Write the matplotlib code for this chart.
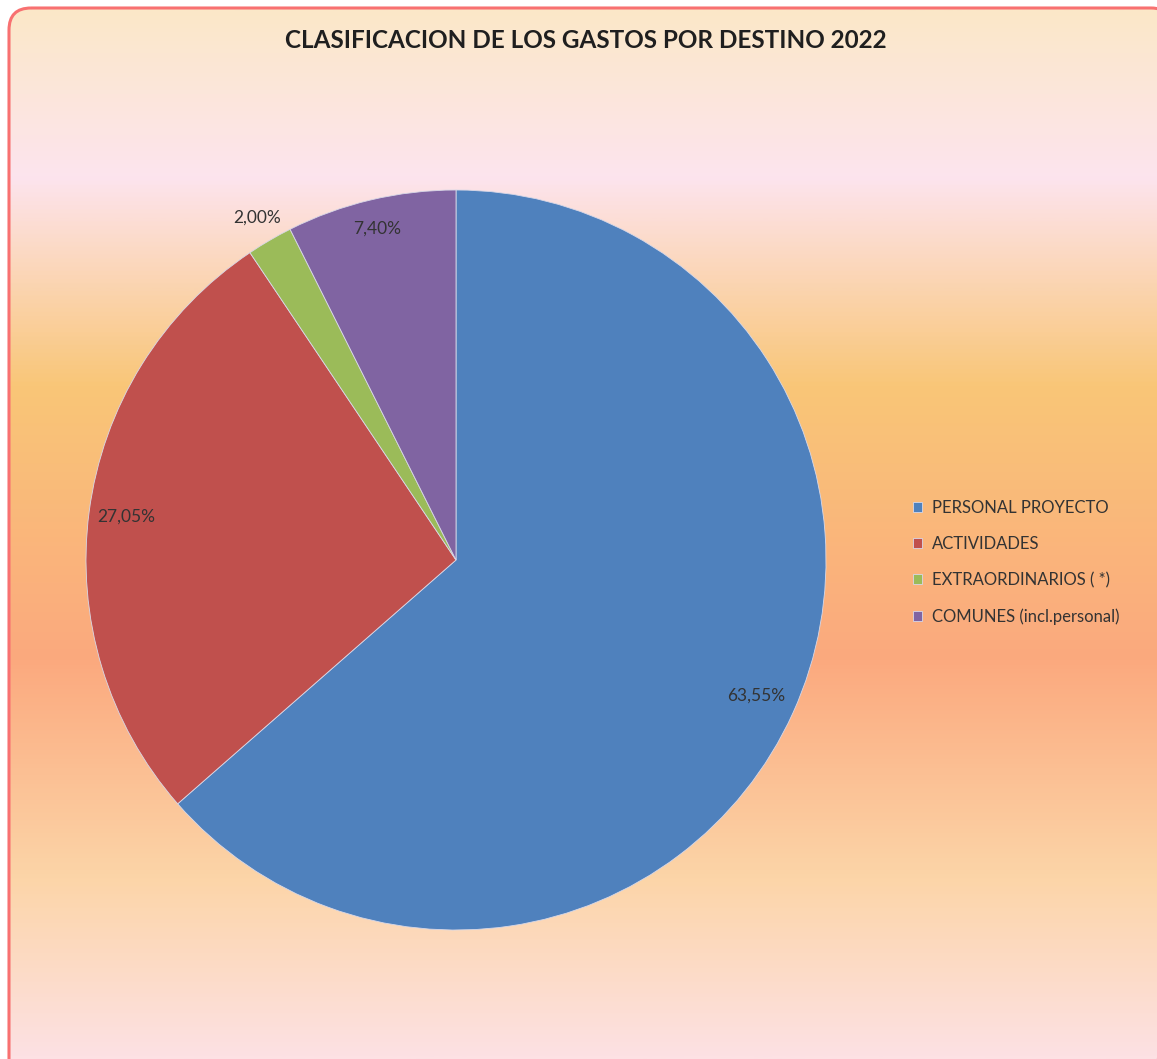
import numpy as np
import matplotlib
matplotlib.use("Agg")
import matplotlib.pyplot as plt
from matplotlib.colors import LinearSegmentedColormap
from matplotlib.patches import FancyBboxPatch

plt.rcParams['font.family'] = ['Lato', 'DejaVu Sans']

# data
categories = ['PERSONAL PROYECTO', 'ACTIVIDADES', 'EXTRAORDINARIOS ( *)', 'COMUNES (incl.personal)']
values = [63.55, 27.05, 2.00, 7.40]
colors = ['#4F81BD', '#C0504D', '#9BBB59', '#8064A2']
label_dist = [0.89, 0.90, 1.07, 0.92]
title = 'CLASIFICACION DE LOS GASTOS POR DESTINO 2022'

W, H = 1157, 1059
fig = plt.figure(figsize=(W / 100, H / 100), dpi=100)

# background gradient
bg = fig.add_axes([0, 0, 1, 1])
bg.axis('off')
grad_cmap = LinearSegmentedColormap.from_list('bg', [
    (0.0, '#FBE8C8'),
    (0.16, '#FDE4EE'),
    (0.36, '#F9C677'),
    (0.62, '#FBA97E'),
    (0.83, '#FCD5A8'),
    (1.0, '#FDE1E4'),
])
grad = np.linspace(0, 1, 512).reshape(-1, 1)
bg.add_patch(plt.Rectangle((0, 0), W, H, color='white', zorder=0))
frame = FancyBboxPatch((9, 8), 1164, H + 30,
                       boxstyle='round,pad=0,rounding_size=22',
                       facecolor='none', edgecolor='#F87171', lw=2.2, zorder=3)
im = bg.imshow(grad, cmap=grad_cmap, extent=[9, W + 39, H, 8], aspect='auto', zorder=1)
bg.add_patch(frame)
im.set_clip_path(frame)
bg.set_xlim(0, W)
bg.set_ylim(H, 0)

bg.text(586, 40, title, ha='center', va='center', fontsize=17.5,
        fontweight='bold', color='#1f1f1f')

# pie
cx, cy, r = 456, 560, 370
ax = fig.add_axes([(cx - r) / W, (H - cy - r) / H, 2 * r / W, 2 * r / H])
wedges, _ = ax.pie(values, colors=colors, startangle=90, counterclock=False,
                   radius=1, wedgeprops=dict(linewidth=0.6, edgecolor='#d8d8e8'))
ax.set_xlim(-1, 1)
ax.set_ylim(-1, 1)
ax.axis('off')

for w, v, d in zip(wedges, values, label_dist):
    ang = np.deg2rad((w.theta1 + w.theta2) / 2)
    txt = ('%.2f%%' % v).replace('.', ',')
    ax.text(d * np.cos(ang), d * np.sin(ang), txt, ha='center', va='center',
            fontsize=12.5, color='#333333')

fig.legend(wedges, categories, loc='upper left',
           bbox_to_anchor=(913 / W, 1 - 500 / H), frameon=False,
           fontsize=12, handlelength=0.55, handleheight=0.55,
           handletextpad=0.6, labelspacing=1.2, borderpad=0, borderaxespad=0,
           labelcolor='#333333')

fig.savefig('out.png', dpi=100)
